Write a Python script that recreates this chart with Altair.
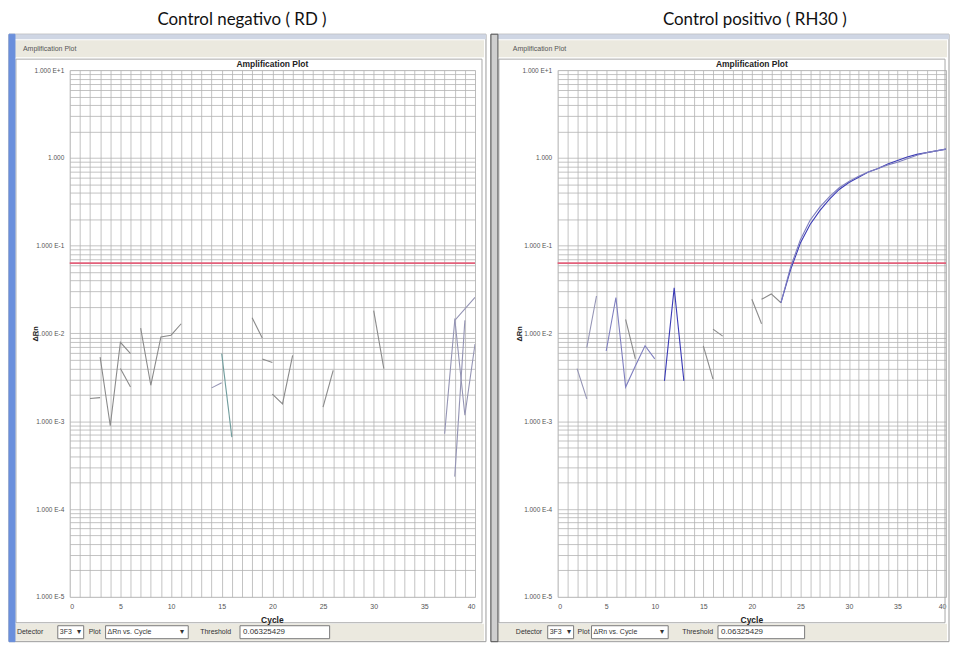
import altair as alt
import pandas as pd

TITLES = ["Control negativo ( RD )", "Control positivo  ( RH30 )"]
PLOT_TITLE = "Amplification Plot"
THRESHOLD = 0.06325429
Y_DECADES = [1e-5, 1e-4, 1e-3, 1e-2, 1e-1, 1.0, 10.0]
X_MAX = 40

# Negative control (RD): short noisy segments (gaps = non-positive ΔRn)
NEG_CYCLES = [[2, 3], [3, 4, 5, 6], [5, 6], [7, 8, 9, 10, 11], [14, 15], [15, 16],
              [18, 19], [19, 20], [20, 21, 22], [25, 26], [30, 31],
              [37, 38, 39, 40], [38, 39], [38, 39, 40]]
NEG_VALUES = [[0.00182, 0.00186], [0.00537, 0.00089, 0.00794, 0.00589], [0.00398, 0.00245],
              [0.0115, 0.00257, 0.00912, 0.00955, 0.0129], [0.0024, 0.00275], [0.00589, 0.00066],
              [0.0151, 0.0089], [0.00513, 0.00468], [0.00204, 0.00158, 0.00562],
              [0.00145, 0.0038], [0.0182, 0.00398],
              [0.00072, 0.0141, 0.0191, 0.0257], [0.000234, 0.0141], [0.0148, 0.00117, 0.00759]]
NEG_TONES = ["grey", "grey", "grey", "grey", "slate", "teal", "grey", "grey", "grey",
             "grey", "grey", "slate", "slate", "slate"]

# Positive control (RH30)
POS_CYCLES = [[2, 3], [3, 4], [5, 6, 7, 8, 9, 10], [7, 8], [11, 12, 13], [15, 16], [16, 17],
              [20, 21], [21, 22, 23],
              list(range(23, 41)), list(range(23, 41))]
POS_VALUES = [[0.00398, 0.0018], [0.00692, 0.0267],
              [0.00631, 0.0257, 0.00245, 0.00427, 0.00724, 0.00513],
              [0.0145, 0.00513], [0.00288, 0.0331, 0.00288], [0.00724, 0.00302], [0.0112, 0.00933],
              [0.0245, 0.0129], [0.0245, 0.0282, 0.0224],
              [0.0224, 0.0537, 0.107, 0.174, 0.251, 0.339, 0.437, 0.525, 0.603, 0.692, 0.759,
               0.851, 0.933, 1.023, 1.096, 1.148, 1.202, 1.259],
              [0.0224, 0.0575, 0.117, 0.195, 0.275, 0.363, 0.457, 0.537, 0.617, 0.692, 0.759,
               0.832, 0.891, 0.977, 1.072, 1.148, 1.202, 1.259]]
POS_TONES = ["slate", "slate", "violet", "grey", "blue", "grey", "grey", "grey", "grey",
             "blue", "violet"]

TONE_NAMES = ["grey", "slate", "teal", "blue", "violet"]
TONE_COLORS = ["#8a8a8a", "#9494b4", "#6f9c9c", "#3a3ab6", "#7f7fbf"]

CONTROL_LABELS = ["Detector", "3F3", "Plot", "ΔRn vs. Cycle", "Threshold", "0.06325429"]


def frame(cycles, values, tones):
    rows = []
    for i, (cs, vs, t) in enumerate(zip(cycles, values, tones)):
        for c, v in zip(cs, vs):
            rows.append({"well": i, "cycle": c, "value": v, "tone": t})
    return pd.DataFrame(rows)


ONE = pd.DataFrame({"k": [0]})
H = 529
Y_GRID = [m * d for d in Y_DECADES[:-1] for m in range(1, 10)] + [Y_DECADES[-1]]

LABEL_EXPR = (
    "abs(datum.value / pow(10, round(log(datum.value) / LN10)) - 1) < 1e-6 ? "
    "(round(log(datum.value) / LN10) == 0 ? '1.000' : '1.000 E' + "
    "(round(log(datum.value) / LN10) > 0 ? '+' : '') + round(log(datum.value) / LN10)) : ''"
)


def rect(x0, x1, y0, y1, **kw):
    return alt.Chart(ONE).mark_rect(**kw).encode(
        x=alt.value(x0), x2=alt.value(x1), y=alt.value(y0), y2=alt.value(y1))


def text(t, x, y, **kw):
    return alt.Chart(ONE).mark_text(text=t, **kw).encode(x=alt.value(x), y=alt.value(y))


def panel(df, W, title, title_x, p):
    xenc = alt.X("cycle:Q", scale=alt.Scale(domain=[0, X_MAX], nice=False),
                 axis=alt.Axis(values=list(range(X_MAX + 1)),
                               labelExpr="datum.value % 5 === 0 ? datum.label : ''",
                               ticks=False, tickSize=0, domain=False, title=None,
                               labelFontSize=7, labelColor="#555", labelPadding=6,
                               gridColor="#b3b3b3", gridWidth=0.8))
    yenc = alt.Y("value:Q", scale=alt.Scale(type="log", domain=[1e-5, 10], nice=False),
                 axis=alt.Axis(values=Y_GRID, labelExpr=LABEL_EXPR, ticks=False, tickSize=0,
                               domain=False, title=None, labelFontSize=6.5, labelColor="#555",
                               labelPadding=6, labelFlush=False,
                               gridColor="#b3b3b3", gridWidth=0.8))
    wy0, wy1 = -36, 574
    deco = [
        rect(p["wx0"], p["wx0"] + 1, -60, -59, opacity=0),
        rect(p["wx0"], p["wx1"], wy0, wy1, fillOpacity=0, stroke="#9a9a9a", strokeWidth=1),
        rect(p["wx0"], p["wx1"], wy0, -31, fill="#cfd6e4"),
        rect(p["wx0"] + 2, p["wx1"] - 2, -30, -13, fill="#ebe9df"),
        rect(p["wx0"] + 2, p["wx1"] - 2, 556, wy1 - 1, fill="#ebe9df"),
        rect(p["ix0"], p["ix1"], -11, 555, fillOpacity=0, stroke="#a8a8a8", strokeWidth=1),
        rect(p["ex0"], p["ex1"], wy0, wy1, fill=p["ecol"], stroke=p["estroke"], strokeWidth=1),
        text(PLOT_TITLE, p["hx"], -21, align="left", baseline="middle", fontSize=7,
             font="Liberation Sans", color="#555"),
        text(title, title_x, -50, align="center", baseline="middle", fontSize=17,
             font="Lato", color="#111"),
        text(PLOT_TITLE, W / 2, -6, align="center", baseline="middle", fontSize=8.5,
             fontWeight="bold", font="Liberation Sans", color="#222"),
        text("ΔRn", p["yl"], 265, align="center", baseline="middle", angle=270, fontSize=7.5,
             fontWeight="bold", font="Liberation Sans", color="#222"),
        text("Cycle", W / 2, 552, align="center", baseline="middle", fontSize=8.5,
             fontWeight="bold", font="Liberation Sans", color="#222"),
    ]
    c = p["ctl"]
    boxes = [(c[1], c[2]), (c[4], c[5]), (c[7], c[8])]
    for (a, b) in boxes:
        deco.append(rect(a, b, 558, 571, fill="#ffffff", stroke="#7a7a7a", strokeWidth=1))
    deco += [
        text(CONTROL_LABELS[0], c[0], 564.5, align="left", baseline="middle", fontSize=7,
             font="Liberation Sans", color="#333"),
        text(CONTROL_LABELS[1], c[1] + 2, 564.5, align="left", baseline="middle", fontSize=7,
             font="Liberation Sans", color="#333"),
        text(CONTROL_LABELS[2], c[3], 564.5, align="left", baseline="middle", fontSize=7,
             font="Liberation Sans", color="#333"),
        text(CONTROL_LABELS[3], c[4] + 2, 564.5, align="left", baseline="middle", fontSize=7,
             font="Liberation Sans", color="#333"),
        text(CONTROL_LABELS[4], c[6], 564.5, align="left", baseline="middle", fontSize=7,
             font="Liberation Sans", color="#333"),
        text(CONTROL_LABELS[5], c[7] + 3, 564.5, align="left", baseline="middle", fontSize=8,
             font="Liberation Sans", color="#333"),
        text("▾", c[2] - 5, 564.5, align="center", baseline="middle", fontSize=8, color="#333"),
        text("▾", c[5] - 6, 564.5, align="center", baseline="middle", fontSize=8, color="#333"),
    ]
    thr = alt.Chart(pd.DataFrame({"value": [THRESHOLD]})).mark_rule(
        color="#e2607a", strokeWidth=1.6).encode(y=yenc)
    lines = alt.Chart(df).mark_line(strokeWidth=1.1, clip=True).encode(
        x=xenc, y=yenc,
        color=alt.Color("tone:N", scale=alt.Scale(domain=TONE_NAMES, range=TONE_COLORS),
                        legend=None),
        detail="well:N")
    return alt.layer(*deco, thr, lines).properties(width=W, height=H)


left_p = dict(wx0=-61, wx1=418, ix0=-54, ix1=414, ex0=-61, ex1=-55, ecol="#6a8fdc",
              estroke="#6a8fdc", hx=-47, yl=-34,
              ctl=[-53, -12, 14, 19, 36, 119, 131, 171, 261])
right_p = dict(wx0=-67, wx1=393, ix0=-59, ix1=389, ex0=-67, ex1=-60, ecol="#cfcfcf",
               estroke="#555555", hx=-45, yl=-38,
               ctl=[-42, -10, 16, 20, 34, 111, 125, 161, 248])

left = panel(frame(NEG_CYCLES, NEG_VALUES, NEG_TONES), 407, TITLES[0], 173, left_p)
right = panel(frame(POS_CYCLES, POS_VALUES, POS_TONES), 390, TITLES[1], 198, right_p)

chart = alt.hconcat(left, right, spacing=3).properties(padding=0).configure_view(
    stroke="#6e6e6e", strokeWidth=1.5).configure(background="#ffffff")

chart.save("out.html", embed_options={"renderer": "svg", "actions": False})
